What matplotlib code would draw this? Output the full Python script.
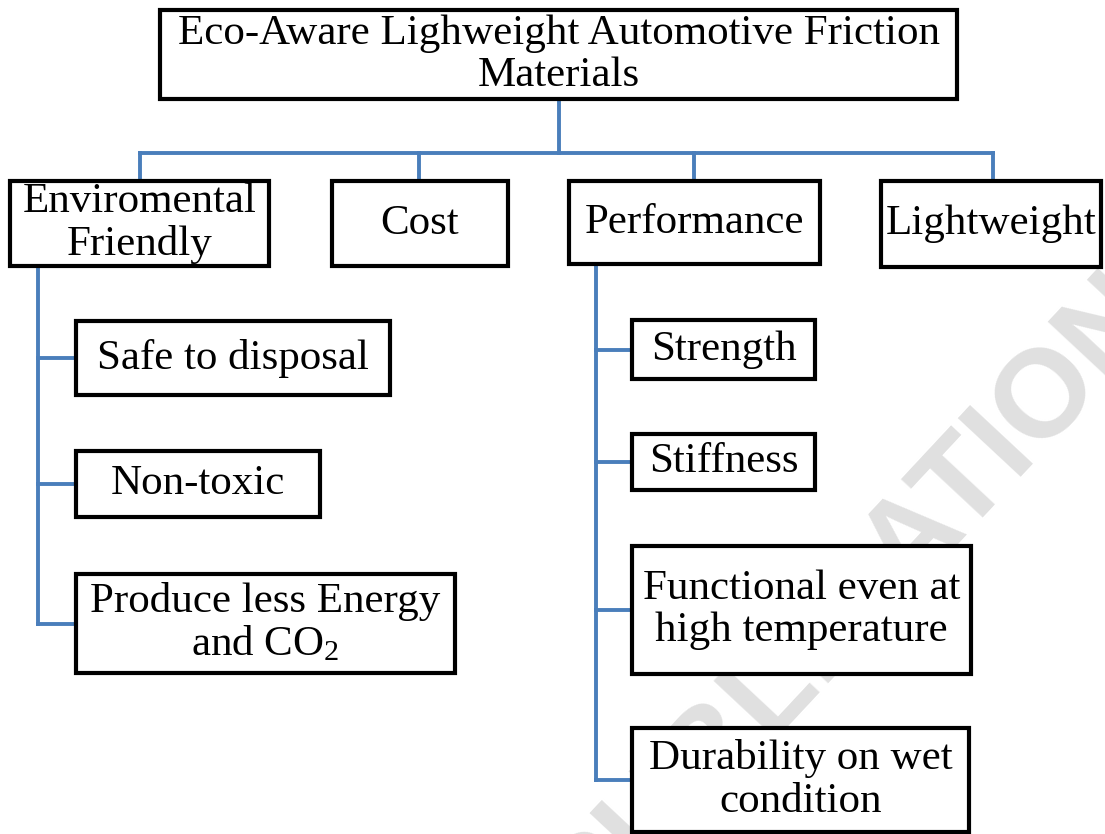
import matplotlib.pyplot as plt
from matplotlib.patches import Rectangle

plt.rcParams['font.family'] = 'Liberation Serif'
plt.rcParams['mathtext.fontset'] = 'custom'
plt.rcParams['mathtext.rm'] = 'Liberation Serif'
plt.rcParams['mathtext.it'] = 'Liberation Serif:italic'

# =========================
# Labels of the tree
# =========================
root_label = 'Eco-Aware Lighweight Automotive Friction\nMaterials'
main_labels = ['Enviromental\nFriendly', 'Cost', 'Performance', 'Lightweight']
env_labels = ['Safe to disposal', 'Non-toxic', 'Produce less Energy\nand CO$_2$']
perf_labels = ['Strength', 'Stiffness', 'Functional even at\nhigh temperature',
               'Durability on wet\ncondition']

# =========================
# Layout (pixel boxes: x0, y0, x1, y1, y down)
# =========================
root_box = (160, 10, 957, 99)
main_boxes = [(10, 181, 269, 266), (332, 181, 508, 266),
              (569, 181, 820, 264), (881, 181, 1101, 267)]
main_drop_x = [140, 419, 694, 993]
bus_y = 153
env_boxes = [(76, 321, 390, 395), (76, 451, 320, 517), (76, 574, 455, 673)]
perf_boxes = [(632, 320, 815, 379), (632, 434, 815, 490),
              (632, 546, 971, 674), (632, 728, 969, 832)]
env_trunk_x = 38
perf_trunk_x = 596

line_col = '#4a7ebb'
line_w = 2.8
box_w = 3.0
fs = 31

fig = plt.figure(figsize=(11.05, 8.34), dpi=100)
ax = fig.add_axes([0, 0, 1, 1])
ax.set_xlim(0, 1105)
ax.set_ylim(834, 0)
ax.axis('off')

# watermark (cut by the figure edge, as in the source)
ax.text(882, 570, 'PUBLICATIONS', rotation=47, fontsize=90, fontweight='bold',
        family='Liberation Sans', color='#e0e0e0', ha='center', va='center',
        rotation_mode='anchor', zorder=0, clip_on=True)


def draw_box(b, label):
    x0, y0, x1, y1 = b
    ax.add_patch(Rectangle((x0, y0), x1 - x0, y1 - y0, facecolor='white',
                           edgecolor='black', linewidth=box_w, zorder=3))
    ax.text((x0 + x1) / 2, (y0 + y1) / 2, label, ha='center', va='center',
            fontsize=fs, linespacing=1.12, zorder=4)


def vline(x, y0, y1):
    ax.plot([x, x], [y0, y1], color=line_col, lw=line_w, zorder=2,
            solid_capstyle='projecting')


def hline(y, x0, x1):
    ax.plot([x0, x1], [y, y], color=line_col, lw=line_w, zorder=2,
            solid_capstyle='projecting')


# connectors from root to main categories
root_cx = (root_box[0] + root_box[2]) / 2
vline(root_cx, root_box[3], bus_y)
hline(bus_y, main_drop_x[0], main_drop_x[-1])
for x, b in zip(main_drop_x, main_boxes):
    vline(x, bus_y, b[1])

# left sub-tree
vline(env_trunk_x, main_boxes[0][3], (env_boxes[-1][1] + env_boxes[-1][3]) / 2)
for b in env_boxes:
    hline((b[1] + b[3]) / 2, env_trunk_x, b[0])

# right sub-tree
vline(perf_trunk_x, main_boxes[2][3], (perf_boxes[-1][1] + perf_boxes[-1][3]) / 2)
for b in perf_boxes:
    hline((b[1] + b[3]) / 2, perf_trunk_x, b[0])

draw_box(root_box, root_label)
for b, lab in zip(main_boxes, main_labels):
    draw_box(b, lab)
for b, lab in zip(env_boxes, env_labels):
    draw_box(b, lab)
for b, lab in zip(perf_boxes, perf_labels):
    draw_box(b, lab)

fig.savefig('out.png', dpi=100)
